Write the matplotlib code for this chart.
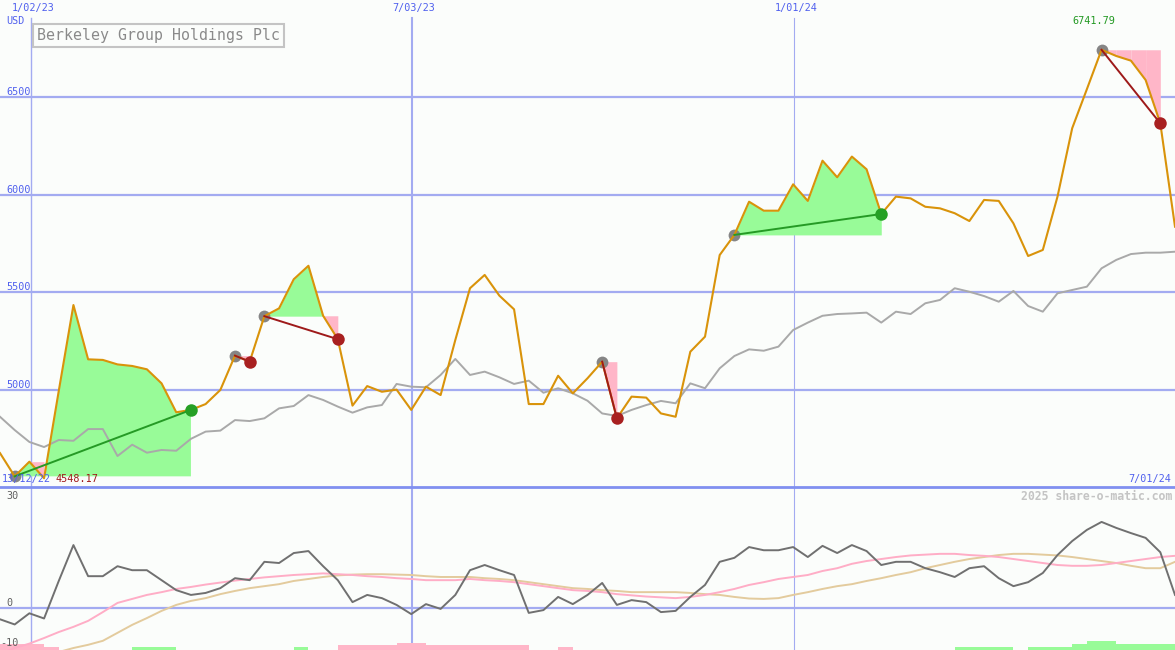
import numpy as np
import matplotlib.pyplot as plt
from matplotlib.lines import Line2D
from matplotlib.transforms import offset_copy

# weekly-ish closes, 13/12/22 .. 7/01/24
price = [4677, 4558, 4633, 4548.17, 4995, 5435, 5157, 5154, 5131, 5123,
         5106, 5034, 4886, 4898, 4928, 5000, 5176, 5145, 5378, 5418,
         5567, 5636, 5380, 5260, 4920, 5020, 4991, 5002, 4898, 5017,
         4974, 5256, 5521, 5589, 5483, 5413, 4928, 4928, 5073, 4983,
         5060, 5145, 4855, 4966, 4961, 4880, 4863, 5196, 5273, 5691,
         5794, 5964, 5918, 5918, 6053, 5968, 6174, 6089, 6195, 6130,
         5901, 5990, 5981, 5938, 5930, 5905, 5865, 5973, 5968, 5853,
         5686, 5717, 5990, 6340, 6540, 6741.79, 6710, 6686, 6587, 6365,
         5836]
avg = [4863, 4795, 4734, 4708, 4744, 4740, 4800, 4800, 4662, 4720,
       4679, 4693, 4689, 4750, 4787, 4792, 4846, 4841, 4855, 4906,
       4918, 4974, 4949, 4915, 4884, 4911, 4923, 5031, 5017, 5014,
       5077, 5159, 5077, 5094, 5065, 5031, 5048, 4986, 5009, 4983,
       4945, 4880, 4867, 4898, 4923, 4944, 4932, 5034, 5009, 5111,
       5174, 5208, 5201, 5222, 5307, 5345, 5380, 5389, 5392, 5396,
       5345, 5401, 5389, 5444, 5461, 5521, 5503, 5481, 5452, 5507,
       5430, 5401, 5495, 5512, 5529, 5623, 5666, 5696, 5703, 5703,
       5708]
mom = [-2.9, -4.2, -1.4, -2.7, 6.7, 15.7, 7.9, 7.9, 10.4, 9.4,
       9.4, 6.9, 4.4, 3.2, 3.7, 4.9, 7.4, 6.9, 11.5, 11.2,
       13.7, 14.2, 10.4, 6.9, 1.4, 3.2, 2.4, 0.7, -1.6, 0.9,
       -0.3, 3.2, 9.4, 10.7, 9.4, 8.2, -1.3, -0.6, 2.7, 0.9,
       3.2, 6.2, 0.7, 1.9, 1.4, -1.1, -0.8, 2.7, 5.7, 11.5,
       12.5, 15.2, 14.4, 14.4, 15.2, 12.7, 15.5, 13.7, 15.7, 14.2,
       10.7, 11.5, 11.5, 9.9, 8.9, 7.7, 9.9, 10.4, 7.4, 5.4,
       6.4, 8.7, 13.2, 16.7, 19.5, 21.5, 20.0, 18.7, 17.5, 13.9,
       3.2]
sig_fast = [-11.6, -10.1, -9.0, -7.6, -6.1, -4.8, -3.3, -1.1, 1.2, 2.2,
            3.2, 3.9, 4.7, 5.2, 5.8, 6.3, 6.8, 7.2, 7.6, 7.9,
            8.2, 8.4, 8.6, 8.4, 8.2, 7.9, 7.7, 7.4, 7.2, 6.9,
            6.9, 6.9, 7.2, 6.9, 6.7, 6.4, 5.9, 5.4, 4.9, 4.4,
            4.2, 3.9, 3.4, 3.1, 2.8, 2.6, 2.4, 2.7, 3.2, 3.9,
            4.7, 5.7, 6.4, 7.2, 7.7, 8.2, 9.2, 9.9, 11.0, 11.7,
            12.2, 12.7, 13.1, 13.3, 13.5, 13.5, 13.2, 13.0, 12.7, 12.2,
            11.7, 11.2, 10.7, 10.5, 10.5, 10.7, 11.2, 11.7, 12.2, 12.7,
            13.0]
sig_slow = [-15.6, -14.4, -13.1, -12.1, -11.1, -10.1, -9.3, -8.3, -6.3, -4.3,
            -2.6, -0.8, 0.7, 1.7, 2.4, 3.4, 4.2, 4.9, 5.4, 5.9,
            6.7, 7.2, 7.7, 8.1, 8.3, 8.4, 8.4, 8.3, 8.2, 7.9,
            7.7, 7.7, 7.7, 7.4, 7.2, 6.9, 6.4, 5.9, 5.4, 4.9,
            4.7, 4.4, 4.2, 3.9, 3.9, 3.9, 3.9, 3.7, 3.4, 3.2,
            2.7, 2.3, 2.2, 2.4, 3.2, 3.9, 4.7, 5.4, 5.9, 6.7,
            7.4, 8.2, 8.9, 9.9, 10.7, 11.5, 12.2, 12.7, 13.2, 13.5,
            13.5, 13.3, 13.1, 12.7, 12.2, 11.7, 11.2, 10.5, 9.9, 9.9,
            11.5]
# small bars at the foot of the lower panel (one per interval)
bar_pink = [1.5, 1.5, 1.5, 0.75, 0, 0, 0, 0, 0, 0,
            0, 0, 0, 0, 0, 0, 0, 0, 0, 0,
            0, 0, 0, 1.25, 1.25, 1.25, 1.25, 1.75, 1.75, 1.25,
            1.25, 1.25, 1.25, 1.25, 1.25, 1.25, 0, 0, 0.75, 0,
            0, 0, 0, 0, 0, 0, 0, 0, 0, 0,
            0, 0, 0, 0, 0, 0, 0, 0, 0, 0,
            0, 0, 0, 0, 0, 0, 0, 0, 0, 0,
            0, 0, 0, 0, 0, 0, 0, 0, 0, 0]
bar_green = [0, 0, 0, 0, 0, 0, 0, 0, 0, 0.75,
             0.75, 0.75, 0, 0, 0, 0, 0, 0, 0, 0,
             0.75, 0, 0, 0, 0, 0, 0, 0, 0, 0,
             0, 0, 0, 0, 0, 0, 0, 0, 0, 0,
             0, 0, 0, 0, 0, 0, 0, 0, 0, 0,
             0, 0, 0, 0, 0, 0, 0, 0, 0, 0,
             0, 0, 0, 0, 0, 0.75, 0.75, 0.75, 0.75, 0,
             0.75, 0.75, 0.75, 1.5, 2.25, 2.25, 1.5, 1.5, 1.5, 1.5]
trades = [(1, 13), (16, 17), (18, 23), (41, 42), (50, 60), (75, 79)]
grid_dates = ['1/02/23', '7/03/23', '1/01/24']
grid_at = [2.11, 28.05, 54.06]
grid_w = [1.0, 1.5, 0.8]
price_ticks = [5000, 5500, 6000, 6500]
ind_ticks = [0, -10]
first_date, last_date = '13/12/22', '7/01/24'
name = 'Berkeley Group Holdings Plc'

price = np.array(price, dtype=float)
x = np.arange(len(price))

W, H = 1175, 650
bg = '#fbfdfb'
gridc = '#a3abf1'
blue = '#5060ee'
green_fill = '#98fb98'
pink_fill = '#ffb6c8'
mono = 'DejaVu Sans Mono'


def fpos(xp, yp):
    return xp / W, 1 - yp / H


fig = plt.figure(figsize=(W / 100, H / 100), dpi=100, facecolor=bg)
ax = fig.add_axes([0, 163 / H, 1, 487 / H])
ax2 = fig.add_axes([0, 0, 1, 162 / H])
for a in (ax, ax2):
    a.set_facecolor(bg)
    for s in a.spines.values():
        s.set_visible(False)
    a.set_xticks([])
    a.set_yticks([])
    a.set_xlim(0, 80)

# ---- price panel
ax.set_ylim(4503.4, 6996.6)
for v in price_ticks:
    ax.axhline(v, color=gridc, lw=1.6, zorder=1)
    ax.text(6 / W, v, str(v), transform=offset_copy(ax.get_yaxis_transform(), fig=fig, y=2, units='dots'),
            color=blue, fontsize=7.3, family=mono, va='baseline', ha='left')
for g, lab, w in zip(grid_at, grid_dates, grid_w):
    ax.axvline(g, ymin=0, ymax=1 - 18 / 487, color=gridc, lw=w, zorder=1)
    ax2.axvline(g, color=gridc, lw=w, zorder=1)
    ax.text(g + 0.15, 1 - 8 / 487, lab, transform=ax.get_xaxis_transform(),
            color=blue, fontsize=7.3, family=mono, va='center', ha='center')

for a, b in trades:
    entry = price[a]
    xs, ps = x[a:b + 1], price[a:b + 1]
    ax.fill_between(xs, ps, entry, where=ps >= entry, interpolate=True,
                    color=green_fill, lw=0, zorder=2)
    for i in range(a, b):
        if price[i + 1] < entry:
            ax.fill_between(x[i:i + 2], price[i:i + 2], max(entry, price[i]),
                            color=pink_fill, lw=0, zorder=2)

ax.plot(x, avg, color='#a9a9a9', lw=1.4, zorder=3)
for a, b in trades:
    ax.plot(a, price[a], 'o', color='#858585', ms=8.5, mec='none', zorder=3.5)
ax.plot(x, price, color='#d9930a', lw=1.5, zorder=4)
for a, b in trades:
    win = price[b] >= price[a]
    c_line = '#259a25' if win else '#9e1a1a'
    c_dot = '#25a025' if win else '#a82020'
    ax.plot([a, b], [price[a], price[b]], color=c_line, lw=1.4, zorder=5)
    ax.plot(b, price[b], 'o', color=c_dot, ms=9, mec='none', zorder=6)

ax.text(37 / W, 1 - 35.5 / 487, name, transform=ax.transAxes, color='#8a8a8a',
        fontsize=10.7, family=mono, va='center', ha='left', zorder=7,
        bbox=dict(boxstyle='square,pad=0.3', fc=bg, ec='#c4c4c4', lw=1.5))

# ---- indicator panel
ax2.set_ylim(-10.6, 30)
ax2.axhline(0, color=gridc, lw=1.6, zorder=1)
for v in ind_ticks:
    ax2.text(6 / W if v == 0 else 0, v, str(v),
             transform=offset_copy(ax2.get_yaxis_transform(), fig=fig, y=2, units='dots'),
             color='#606060', fontsize=7.3, family=mono, va='baseline', ha='left')
ax2.text(6 / W, 30, '30', transform=offset_copy(ax2.get_yaxis_transform(), fig=fig, y=-3, units='dots'),
         color='#606060', fontsize=7.3, family=mono, va='top', ha='left')
ax2.bar(x[:-1], bar_pink, width=1, align='edge', bottom=-10.6, color=pink_fill, lw=0, zorder=2)
ax2.bar(x[:-1], bar_green, width=1, align='edge', bottom=-10.6, color=green_fill, lw=0, zorder=2)
ax2.plot(x, sig_slow, color='#e3cb9d', lw=1.4, zorder=3)
ax2.plot(x, sig_fast, color='#ffadc6', lw=1.4, zorder=3)
ax2.plot(x, mom, color='#707070', lw=1.4, zorder=4)

# ---- loose labels
fig.add_artist(Line2D([0, 1], [1 - 487 / H] * 2, color='#8090f0', lw=2))
fig.text(*fpos(6, 20.5), 'USD', color=blue, fontsize=7.3, family=mono, va='center', ha='left')
fig.text(*fpos(1094, 20.5), f'{price.max():.2f}', color='#229922', fontsize=7.3, family=mono,
         va='center', ha='center')
fig.text(*fpos(2, 479), first_date, color=blue, fontsize=7.3, family=mono, va='center', ha='left')
fig.text(*fpos(56, 479), f'{price.min():.2f}', color='#a01818', fontsize=7.3, family=mono,
         va='center', ha='left')
fig.text(*fpos(1171, 479), last_date, color=blue, fontsize=7.3, family=mono, va='center', ha='right')
fig.text(*fpos(1172, 496), '2025 share-o-matic.com', color='#c4c4c4', fontsize=8.3,
         family=mono, weight='bold', va='center', ha='right')

fig.savefig('out.png', dpi=100, facecolor=bg)
